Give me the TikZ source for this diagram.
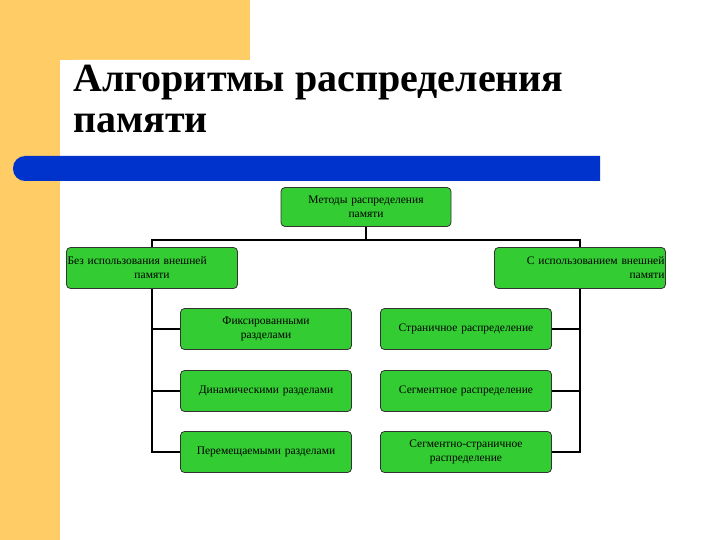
\documentclass[tikz,border=0pt]{standalone}
\usepackage{fontspec}
\setmainfont{Liberation Serif}
\begin{document}
\begin{tikzpicture}[x=1pt,y=-1pt,
 box/.style={draw=black!80,line width=0.8pt,fill={rgb,255:red,51;green,204;blue,51},rounded corners=4pt,minimum width=171pt,minimum height=41pt,align=center,font=\fontsize{11.5}{14}\selectfont,inner sep=1pt,text width=169pt},
 link/.style={line width=1.6pt,black}]
\useasboundingbox (0,0) rectangle (720,540);
\fill[white] (0,0) rectangle (720,540);
\definecolor{org}{RGB}{255,204,102}
\definecolor{blu}{RGB}{0,51,204}
\fill[org] (0,0) rectangle (250,60);
\fill[org] (0,0) rectangle (60,540);
\fill[white,rounded corners=12pt] (60,540) -- (60,60) -- (250,60) [sharp corners] -- (250,540) -- cycle;
\fill[blu,rounded corners=12pt] (600,156) -- (13,156) -- (13,181) [sharp corners] -- (600,181) -- cycle;
\node[anchor=base west,font=\bfseries\fontsize{40}{44}\selectfont,inner sep=0] (t1) at (73,92) {Алгоритмы распределения};
\node[anchor=base west,font=\bfseries\fontsize{40}{44}\selectfont,inner sep=0] (t2) at (73,133) {памяти};
\node[box,minimum width=170pt,minimum height=39pt,text width=168pt] (top) at (366,207) {Методы распределения\\памяти};
\node[box,align=left] (L) at (152,268) {Без использования внешней\\\hfill памяти\hfill\null};
\node[box,align=right] (R) at (580,268) {С использованием внешней\\памяти};
\node[box] (l1) at (266,329) {Фиксированными\\разделами};
\node[box] (l2) at (266,391) {Динамическими разделами};
\node[box] (l3) at (266,452) {Перемещаемыми разделами};
\node[box] (r1) at (466,329) {Страничное распределение};
\node[box] (r2) at (466,391) {Сегментное распределение};
\node[box] (r3) at (466,452) {Сегментно-страничное\\распределение};
\coordinate (j) at (366,240);
\draw[link] (top.south) -- (j);
\draw[link] (L.north) |- (j) -| (R.north);
\draw[link] (L.south) |- (l3.west);
\draw[link] (L.south |- l1.west) -- (l1.west);
\draw[link] (L.south |- l2.west) -- (l2.west);
\draw[link] (R.south) |- (r3.east);
\draw[link] (R.south |- r1.east) -- (r1.east);
\draw[link] (R.south |- r2.east) -- (r2.east);
\end{tikzpicture}
\end{document}
